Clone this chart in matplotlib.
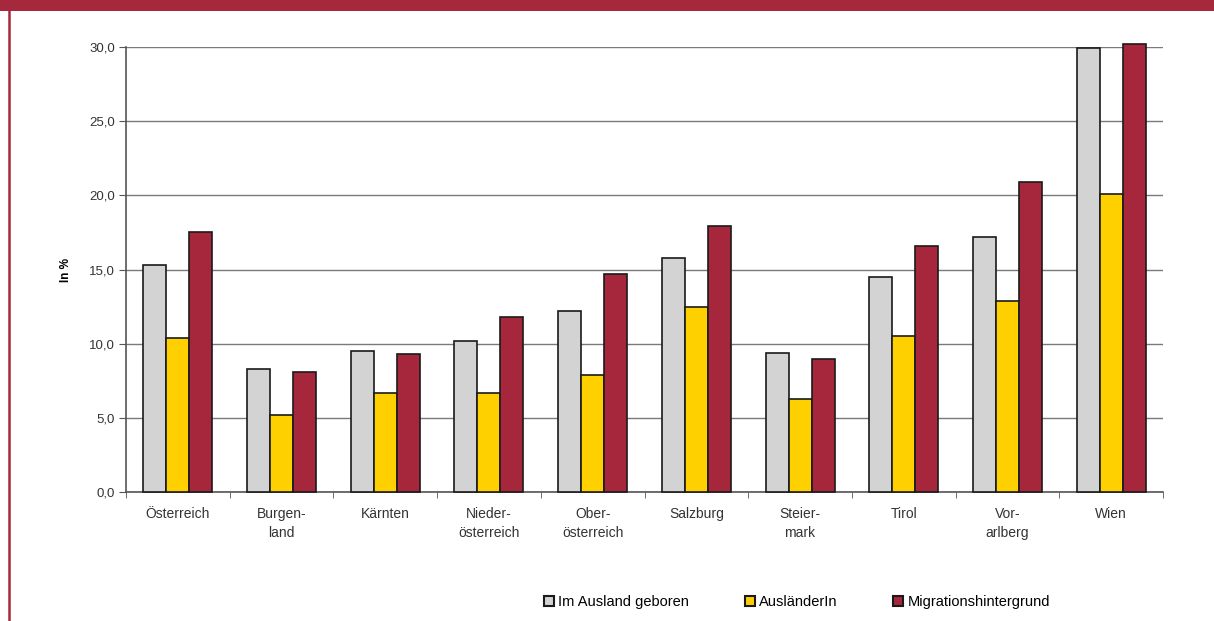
import numpy as np
import matplotlib
matplotlib.use('Agg')
import matplotlib.pyplot as plt
from matplotlib.patches import Patch, Rectangle
from matplotlib.lines import Line2D
from matplotlib.ticker import FuncFormatter

plt.rcParams['font.family'] = ['Liberation Sans', 'DejaVu Sans']

regions = ['Österreich', 'Burgen-\nland', 'Kärnten', 'Nieder-\nösterreich', 'Ober-\nösterreich',
           'Salzburg', 'Steier-\nmark', 'Tirol', 'Vor-\narlberg', 'Wien']
series_names = ['Im Ausland geboren', 'AusländerIn', 'Migrationshintergrund']
im_ausland = [15.3, 8.3, 9.5, 10.2, 12.2, 15.8, 9.4, 14.5, 17.2, 29.9]
auslaender = [10.4, 5.2, 6.7, 6.7, 7.9, 12.5, 6.3, 10.5, 12.9, 20.1]
migration = [17.5, 8.1, 9.3, 11.8, 14.7, 17.9, 9.0, 16.6, 20.9, 30.2]
colors = ['#D3D3D3', '#FFD000', '#A6273C']

W, H = 1214, 621
fig = plt.figure(figsize=(W / 100, H / 100), dpi=100)
fig.patch.set_facecolor('white')

# red banner on top and thin red line on the left
fig.patches.append(Rectangle((0, 1 - 11 / H), 1, 11 / H, transform=fig.transFigure,
                             facecolor='#A6283D', edgecolor='none'))
fig.lines.append(Line2D([8.5 / W, 8.5 / W], [0, 1 - 11 / H], transform=fig.transFigure,
                        color='#A6283D', linewidth=1.8))

ax = fig.add_axes([126 / W, 1 - 492 / H, 1037 / W, 445 / H])

x = np.arange(len(regions))
bw = 0.222
for i, (vals, col) in enumerate(zip([im_ausland, auslaender, migration], colors)):
    ax.bar(x + (i - 1) * bw, vals, width=bw, color=col, edgecolor='#1a1a1a',
           linewidth=1.2, zorder=3, clip_on=False)

ax.set_xlim(-0.5, len(regions) - 0.5)
ax.set_ylim(0, 30)
ax.set_yticks(np.arange(0, 31, 5))
ax.yaxis.set_major_formatter(FuncFormatter(lambda v, p: f'{v:.1f}'.replace('.', ',')))
ax.yaxis.grid(True, color='#7a7a7a', linewidth=1.0, zorder=0)
ax.set_axisbelow(True)

ax.set_xticks(x)
ax.set_xticklabels(regions, fontsize=10, color='#333333', linespacing=1.45)
ax.tick_params(axis='x', which='major', length=0, pad=11)
ax.set_xticks(np.arange(-0.5, len(regions)), minor=True)
ax.tick_params(axis='x', which='minor', length=4, color='#555555', direction='out')
ax.tick_params(axis='y', length=5, color='#555555', labelsize=9.5, labelcolor='#333333', pad=3)

for s in ['top', 'right']:
    ax.spines[s].set_visible(False)
for s in ['left', 'bottom']:
    ax.spines[s].set_color('#555555')
    ax.spines[s].set_linewidth(1.2)

ax.set_ylabel('In %', fontsize=8.5, fontweight='bold', labelpad=12)

handles = [Patch(facecolor=c, edgecolor='#1a1a1a', linewidth=1.5) for c in colors]
fig.legend(handles, series_names, loc='center', bbox_to_anchor=(797 / W, 1 - 602 / H),
           ncol=3, frameon=False, fontsize=10.5, handlelength=0.7, handleheight=0.7,
           handletextpad=0.3, columnspacing=3.8)

fig.savefig('out.png', dpi=100)
